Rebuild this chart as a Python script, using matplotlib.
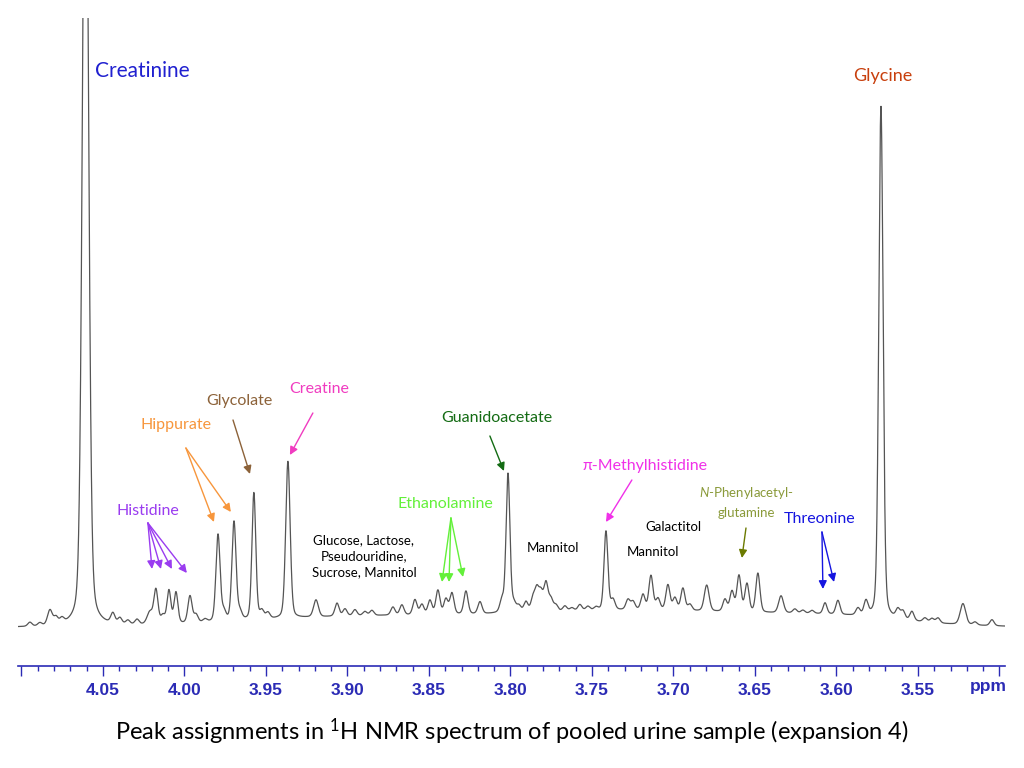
import numpy as np
import matplotlib
matplotlib.use('Agg')
import matplotlib.pyplot as plt
from matplotlib.ticker import MultipleLocator, FixedLocator, FixedFormatter

plt.rcParams['font.family'] = ['Lato', 'DejaVu Sans']
plt.rcParams['mathtext.fontset'] = 'custom'
plt.rcParams['mathtext.rm'] = 'Lato'
plt.rcParams['mathtext.it'] = 'Lato:italic'

# peak list: chemical shift (ppm), height, full width (ppm)
peak_ppm = [4.0948, 4.0887, 4.0825, 4.0788, 4.0752, 4.0607, 4.0439, 4.0396, 4.0347, 4.0291,
            4.0212, 4.0175, 4.0132, 4.0095, 4.0052, 3.9966, 3.9929, 3.9874, 3.9794, 3.9758,
            3.9696, 3.9660, 3.9574, 3.9525, 3.9488, 3.9365, 3.9193, 3.9064, 3.9015, 3.8954,
            3.8893, 3.8850, 3.8721, 3.8666, 3.8586, 3.8543, 3.8494, 3.8445, 3.8396, 3.8359,
            3.8273, 3.8187, 3.8052, 3.8015, 3.7979, 3.7948, 3.7905, 3.7862, 3.7838, 3.7813,
            3.7782, 3.7752, 3.7721, 3.7666, 3.7623, 3.7574, 3.7525, 3.7475, 3.7414, 3.7371,
            3.7279, 3.7248, 3.7187, 3.7138, 3.7095, 3.7034, 3.6991, 3.6942, 3.6899, 3.6796,
            3.6684, 3.6641, 3.6598, 3.6549, 3.6482, 3.6340, 3.6255, 3.6206, 3.6150, 3.6070,
            3.5991, 3.5868, 3.5819, 3.5727, 3.5623, 3.5592, 3.5537, 3.5457, 3.5414, 3.5377,
            3.5224, 3.5150, 3.5046,
            3.7200, 3.9000, 3.6000]
peak_height = [4, 3, 15, 7, 5, 900, 10, 6, 4, 5,
               12, 34, 8, 33, 31, 27, 8, 3, 87, 9,
               99, 8, 127, 8, 6, 157, 17, 13, 7, 6,
               4, 5, 8, 10, 15, 10, 14, 24, 15, 21,
               23, 12, 12, 139, 8, 6, 10, 13, 21, 18,
               28, 12, 6, 5, 3, 6, 4, 3, 79, 10,
               10, 8, 15, 34, 11, 25, 12, 22, 6, 26,
               12, 20, 36, 28, 39, 17, 4, 3, 3, 11,
               14, 7, 14, 512, 9, 8, 9, 4, 4, 5,
               21, 3, 6,
               17, 9, 6]
peak_width = [0.0030, 0.0030, 0.0035, 0.0030, 0.0030, 0.0043, 0.0030, 0.0030, 0.0030, 0.0030,
              0.0040, 0.0030, 0.0030, 0.0028, 0.0028, 0.0030, 0.0030, 0.0030, 0.0030, 0.0030,
              0.0030, 0.0030, 0.0028, 0.0030, 0.0030, 0.0032, 0.0035, 0.0030, 0.0030, 0.0030,
              0.0030, 0.0030, 0.0030, 0.0030, 0.0030, 0.0030, 0.0030, 0.0030, 0.0030, 0.0030,
              0.0030, 0.0030, 0.0030, 0.0028, 0.0030, 0.0030, 0.0030, 0.0030, 0.0030, 0.0030,
              0.0030, 0.0030, 0.0030, 0.0030, 0.0030, 0.0030, 0.0030, 0.0030, 0.0028, 0.0030,
              0.0030, 0.0030, 0.0030, 0.0030, 0.0030, 0.0030, 0.0030, 0.0030, 0.0030, 0.0035,
              0.0030, 0.0030, 0.0030, 0.0030, 0.0030, 0.0035, 0.0030, 0.0030, 0.0030, 0.0028,
              0.0030, 0.0030, 0.0030, 0.0031, 0.0030, 0.0030, 0.0030, 0.0030, 0.0030, 0.0030,
              0.0040, 0.0030, 0.0030,
              0.21, 0.165, 0.094]
baseline_offset = 4

major_ticks = [4.10, 4.05, 4.00, 3.95, 3.90, 3.85, 3.80, 3.75, 3.70, 3.65, 3.60, 3.55, 3.50]
major_labels = ['', '4.05', '4.00', '3.95', '3.90', '3.85', '3.80', '3.75', '3.70', '3.65',
                '3.60', '3.55', '']

#build the spectrum from the peak list (pseudo-Voigt line shape)
ppm = np.linspace(4.1021, 3.4966, 8000)
spectrum = np.full_like(ppm, baseline_offset, dtype=float)
eta = 0.25
for p, h, w in zip(peak_ppm, peak_height, peak_width):
    d = (ppm - p) / w
    gauss = np.exp(-4 * np.log(2) * d ** 2)
    lor = 1 / (1 + 4 * d ** 2)
    spectrum += h * ((1 - eta) * gauss + eta * lor)

fig = plt.figure(figsize=(10.24, 7.68), dpi=100)
ax = fig.add_axes([18 / 1024, 1 - 666 / 768, 987 / 1024, 648 / 768])
ax.plot(ppm, spectrum, color='#555555', lw=0.9)
ax.set_xlim(4.1021, 3.4966)
ax.set_ylim(-34, 614)

axis_blue = '#2b2bb5'
for s in ['left', 'right', 'top']:
    ax.spines[s].set_visible(False)
ax.spines['bottom'].set_color(axis_blue)
ax.spines['bottom'].set_linewidth(1.2)
ax.set_yticks([])
ax.xaxis.set_major_locator(FixedLocator(major_ticks))
ax.xaxis.set_major_formatter(FixedFormatter(major_labels))
ax.xaxis.set_minor_locator(MultipleLocator(0.01))
ax.tick_params(axis='x', which='major', length=7, width=1, color=axis_blue, pad=5,
               labelcolor=axis_blue, labelsize=12.5)
ax.tick_params(axis='x', which='minor', length=3.5, width=1, color=axis_blue)
for lab in ax.get_xticklabels():
    lab.set_fontfamily('Liberation Sans')
    lab.set_fontweight('bold')
fig.text(988 / 1024, 1 - 687 / 768, 'ppm', color=axis_blue, fontsize=12.5, fontweight='bold',
         family='Liberation Sans', ha='center', va='center')

#labels with arrows: text, colour, text position, arrow start, arrow tips
mid = 11.5
small = 9.5
ax.text(4.0549, 561, 'Creatinine', color='#2020d0', fontsize=15, ha='left', va='center')
ax.text(3.5715, 556, 'Glycine', color='#c8400e', fontsize=13, ha='center', va='center')

labels = [
    ('Creatine', '#f03cc0', (3.9175, 243), (3.9212, 219), [(3.9353, 177)]),
    ('Glycolate', '#8c6239', (3.9660, 231), (3.9702, 212), [(3.9598, 158)]),
    ('Hippurate', '#f7963c', (4.0052, 207), (3.9991, 184), [(3.9819, 110), (3.9715, 120)]),
    ('Histidine', '#9a3cf0', (4.0224, 121), (4.0224, 109),
     [(4.0199, 63), (4.0144, 63), (4.0077, 63), (3.9985, 59)]),
    ('Guanidoacetate', '#136b13', (3.8083, 214), (3.8126, 196), [(3.8040, 161)]),
    ('Ethanolamine', '#63f03a', (3.8402, 128), (3.8365, 114),
     [(3.8420, 50), (3.8377, 50), (3.8291, 55)]),
    ('\u03c0-Methylhistidine', '#f030e8', (3.7175, 166), (3.7255, 152), [(3.7414, 110)]),
    ('Threonine', '#1515e0', (3.6101, 113), (3.6089, 100), [(3.6083, 43), (3.6015, 50)]),
]
for text, col, tpos, start, tips in labels:
    ax.text(tpos[0], tpos[1], text, color=col, fontsize=mid, ha='center', va='center')
    for tip in tips:
        ax.annotate('', xy=tip, xytext=start,
                    arrowprops=dict(arrowstyle='-|>', color=col, lw=1, mutation_scale=12,
                                    shrinkA=0, shrinkB=0))

ax.text(3.6555, 130, '$\\mathit{N}$-Phenylacetyl-\nglutamine', color='#8a9a3a', fontsize=small,
        ha='center', va='center', linespacing=1.6)
ax.annotate('', xy=(3.6580, 74), xytext=(3.6555, 104),
            arrowprops=dict(arrowstyle='-|>', color='#6b7a00', lw=1, mutation_scale=12,
                            shrinkA=0, shrinkB=0))

ax.text(3.8899, 76, 'Glucose, Lactose,\nPseudouridine,\nSucrose, Mannitol', color='black',
        fontsize=small, ha='center', va='center', linespacing=1.4)
ax.text(3.7739, 84, 'Mannitol', color='black', fontsize=small, ha='center', va='center')
ax.text(3.7003, 105, 'Galactitol', color='black', fontsize=small, ha='center', va='center')
ax.text(3.7126, 80, 'Mannitol', color='black', fontsize=small, ha='center', va='center')

fig.text(0.5, 1 - 732 / 768, 'Peak assignments in $^{1}$H NMR spectrum of pooled urine sample (expansion 4)',
         fontsize=17, ha='center', va='center')

fig.savefig('out.png', dpi=100)
